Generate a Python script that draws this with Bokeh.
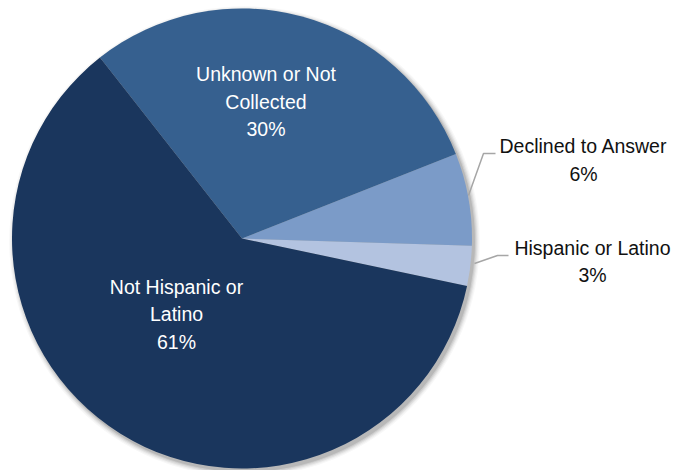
import math
from bokeh.plotting import figure
from bokeh.models import ColumnDataSource
from bokeh.core.properties import value
from bokeh.embed import file_html
from bokeh.resources import INLINE

# ---- data ----
categories = ["Hispanic or Latino", "Declined to Answer", "Unknown or Not Collected", "Not Hispanic or Latino"]
shares = [2.8, 6.5, 29.6, 61.1]
pct_labels = ["3%", "6%", "30%", "61%"]
label_lines = [["Hispanic or Latino"], ["Declined to Answer"], ["Unknown or Not", "Collected"], ["Not Hispanic or", "Latino"]]
colors = ["#b3c3e0", "#7b9bc8", "#36608f", "#1a365d"]

W, H = 673, 470
CX, CY, R = 241.5, H - 238, 230
START = math.radians(-11.9)

p = figure(width=W, height=H, x_range=(0, W), y_range=(0, H), output_backend="svg",
           toolbar_location=None, x_axis_location=None, y_axis_location=None,
           min_border=0, outline_line_color=None, background_fill_color="white",
           border_fill_color="white")
p.grid.visible = False

# shadow
for i, a in enumerate([0.10, 0.08, 0.06, 0.04, 0.03]):
    p.circle(x=[CX + 2.5], y=[CY - 3], radius=R + 0.5 + i * 1.2, fill_color="black",
             fill_alpha=a, line_color=None)

total = sum(shares)
starts, ends = [], []
acc = START
for s in shares:
    starts.append(acc)
    acc += 2 * math.pi * s / total
    ends.append(acc)

src = ColumnDataSource(dict(start=starts, end=ends, color=colors, cat=categories))
p.wedge(x=CX, y=CY, radius=R, start_angle="start", end_angle="end", fill_color="color",
        line_color=None, source=src)

FONT = "Liberation Sans"
FS = "19.5px"
LH = 27.5

# label anchor positions (pixel layout), and colors
anchors = [(592, 261), (583, 159.5), (265.5, 101), (176, 313.5)]
text_colors = ["#111111", "#111111", "white", "white"]

for lines, pct, (ax, ay), tc in zip(label_lines, pct_labels, anchors, text_colors):
    all_lines = lines + [pct]
    n = len(all_lines)
    ys = [H - (ay - (n - 1) / 2 * LH + i * LH) for i in range(n)]
    p.text(x=[ax] * n, y=ys, text=all_lines, text_align="center", text_baseline="middle",
           text_font=value(FONT), text_font_size=FS, text_color=tc)

# leader lines
p.line(x=[468, 483, 495], y=[H - 195, H - 153, H - 153], line_color="#a6a6a6", line_width=1.5)
p.line(x=[474, 497, 508], y=[H - 263, H - 255, H - 255], line_color="#a6a6a6", line_width=1.5)

open("out.html", "w").write(file_html(p, INLINE))
